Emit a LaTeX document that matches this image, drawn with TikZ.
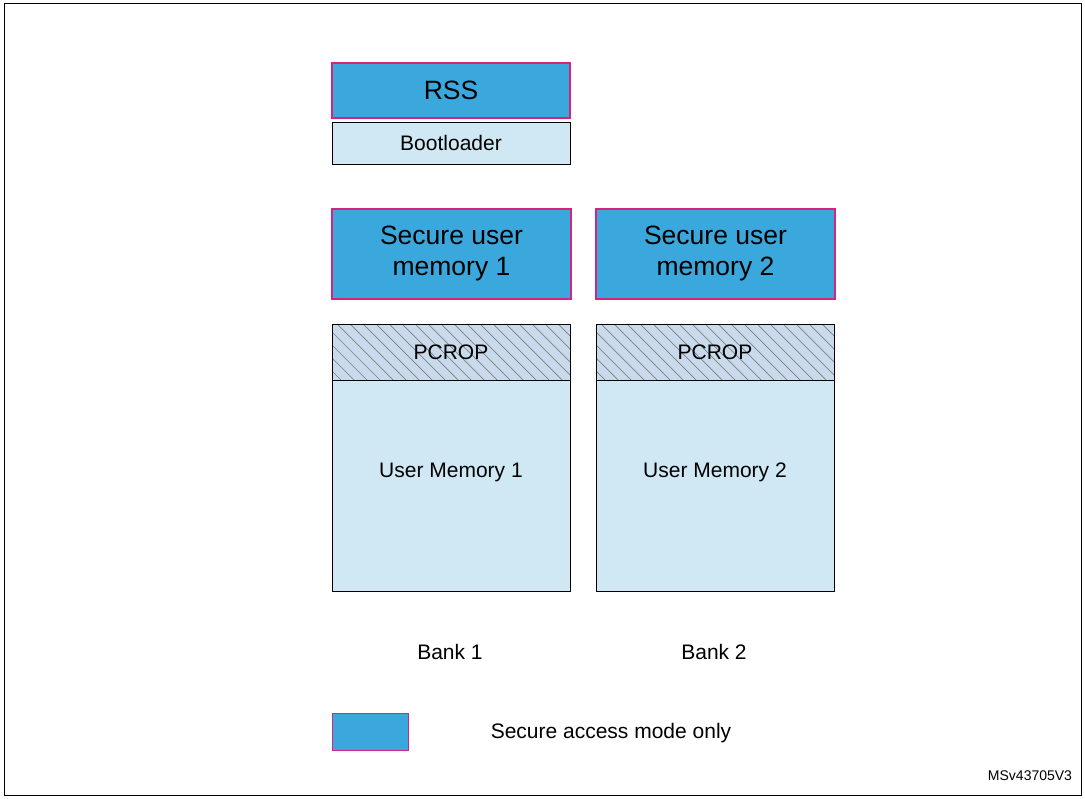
\documentclass[tikz,border=0pt]{standalone}
\usepackage{fontspec}
\setmainfont{Liberation Sans}
\definecolor{secblue}{HTML}{3AA8DC}
\definecolor{memblue}{HTML}{CFE8F3}
\definecolor{hatchblue}{HTML}{C9DAEC}
\definecolor{secpink}{HTML}{D6247E}
\begin{document}
\begin{tikzpicture}[x=1pt,y=-1pt,
	secure/.style={draw=secpink, line width=2.5pt, fill=secblue},
	mem/.style={draw=black, line width=0.8pt, fill=memblue},
	lbl/.style={font=\fontsize{21}{25}\selectfont},
	big/.style={align=center, font=\fontsize{26.5}{31}\selectfont}]
	% Frame
	\draw[line width=1pt] (4,4) rectangle (1081,795);
	\useasboundingbox (0,0) rectangle (1085,799);
	
	% Top blocks
	\draw[secure] (332,63) rectangle (570,118);
	\node (rss) at (451,90) [big] {RSS};
	\draw[mem] (332,122) rectangle (570,164);
	\node (boot) at (451,143) [lbl] {Bootloader};
	
	% Secure user memories
	\draw[secure] (332,209) rectangle (571,299);
	\node (sec1) at (451.5,254) [big] {Secure user\\memory 1};
	\draw[secure] (596,209) rectangle (835,299);
	\node (sec2) at (715.5,254) [big] {Secure user\\memory 2};
	
	% Banks
	\foreach \x/\n in {332/1,596/2} {
		\fill[hatchblue] (\x,324) rectangle (\x+238,380);
		\begin{scope}
			\clip (\x,324) rectangle (\x+238,380);
			\foreach \d in {-60,-47,...,250}
				\draw[gray, line width=0.7pt] (\x+\d,324) -- (\x+\d+56,380);
		\end{scope}
		\draw[mem] (\x,380) rectangle (\x+238,591);
		\draw[line width=0.8pt] (\x,324) rectangle (\x+238,380);
		\node (pcrop\n) at (\x+119,352) [lbl] {PCROP};
		\node (user\n) at (\x+119,472) [lbl] {User Memory \n};
		\node (bank\n) at (\x+118,652) [lbl] {Bank \n};
	}
	
	% Legend
	\draw[draw=secpink, line width=1pt, fill=secblue] (332,713) rectangle (408,750);
	\node (legend) at (611,733) [lbl] {Secure access mode only};
	\node (ref) at (1030,776) [font=\fontsize{14}{16}\selectfont] {MSv43705V3};
\end{tikzpicture}
\end{document}
